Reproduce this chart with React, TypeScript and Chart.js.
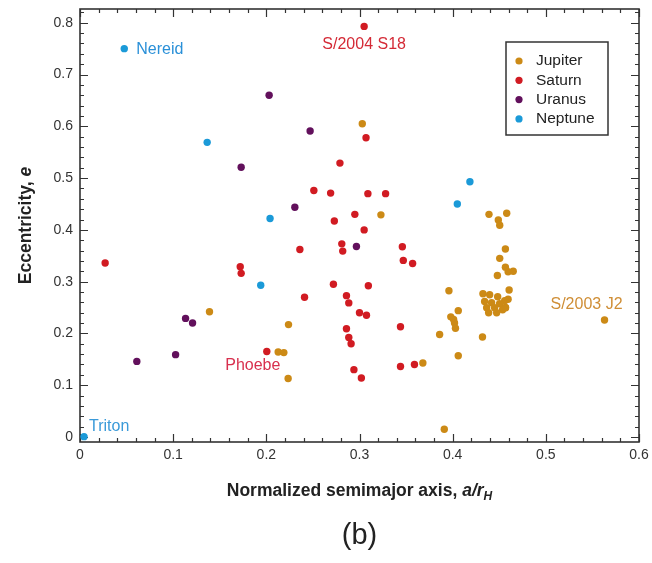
import React, { useEffect, useRef } from "react";
import { Chart, registerables } from "chart.js";

Chart.register(...registerables);

const FONT = '"Liberation Sans", Arial, Helvetica, sans-serif';

// Normalized semimajor axis (a / r_H) and eccentricity of irregular moons
const jupiterA = [
  0.139, 0.2127, 0.2188, 0.2234, 0.2238, 0.303, 0.323, 0.368, 0.386, 0.391,
  0.396, 0.398, 0.401, 0.402, 0.403, 0.406, 0.406, 0.432, 0.439, 0.449,
  0.4505, 0.458, 0.4566, 0.4505, 0.4566, 0.448, 0.4595, 0.465, 0.4606, 0.4595,
  0.4566, 0.4325, 0.4397, 0.4483, 0.4558, 0.4343, 0.4418, 0.4504, 0.4365, 0.445,
  0.4536, 0.4386, 0.4472, 0.4568, 0.563,
];
const jupiterE = [
  0.242, 0.164, 0.163, 0.113, 0.217, 0.605, 0.429, 0.143, 0.198, 0.015,
  0.2825, 0.232, 0.227, 0.22, 0.21, 0.244, 0.157, 0.193, 0.43, 0.419,
  0.409, 0.432, 0.363, 0.345, 0.328, 0.312, 0.319, 0.32, 0.284, 0.266,
  0.25, 0.2766, 0.2747, 0.2708, 0.2631, 0.2617, 0.2592, 0.2573, 0.2495, 0.2495,
  0.2456, 0.2398, 0.2398, 0.2495, 0.226,
];

const saturnA = [
  0.027, 0.172, 0.173, 0.2005, 0.236, 0.241, 0.251, 0.269, 0.272, 0.273,
  0.279, 0.281, 0.282, 0.286, 0.2885, 0.286, 0.2885, 0.291, 0.294, 0.295,
  0.3, 0.302, 0.305, 0.305, 0.307, 0.3075, 0.309, 0.3095, 0.328, 0.344,
  0.344, 0.346, 0.347, 0.357, 0.359,
];
const saturnE = [
  0.336, 0.329, 0.316, 0.165, 0.362, 0.27, 0.476, 0.471, 0.295, 0.417,
  0.529, 0.373, 0.359, 0.273, 0.259, 0.209, 0.192, 0.18, 0.13, 0.43,
  0.24, 0.114, 0.4, 0.793, 0.578, 0.235, 0.47, 0.292, 0.47, 0.213,
  0.136, 0.3675, 0.341, 0.335, 0.14,
];

const uranusA = [0.061, 0.1026, 0.1133, 0.1208, 0.173, 0.203, 0.2306, 0.247, 0.2967];
const uranusE = [0.146, 0.159, 0.229, 0.22, 0.521, 0.66, 0.4436, 0.591, 0.368];

const neptuneA = [0.0043, 0.0475, 0.1365, 0.194, 0.204, 0.405, 0.4185];
const neptuneE = [0.0006, 0.75, 0.569, 0.293, 0.422, 0.45, 0.493];

const seriesNames = ["Jupiter", "Saturn", "Uranus", "Neptune"];
const seriesColors = ["#cc8a16", "#d11b22", "#62105c", "#1b9ad8"];

const xTickLabels = ["0", "0.1", "0.2", "0.3", "0.4", "0.5", "0.6"];
const yTickLabels = ["0", "0.1", "0.2", "0.3", "0.4", "0.5", "0.6", "0.7", "0.8"];

// Named moons: a, e
const namedMoons = ["Nereid", "S/2004 S18", "Phoebe", "S/2003 J2", "Triton"];
const namedA = [0.0475, 0.305, 0.2005, 0.563, 0.0043];
const namedE = [0.75, 0.793, 0.165, 0.226, 0.0006];
const namedColors = ["#2a90d8", "#d42a36", "#d8304e", "#cf8e36", "#3a9ad9"];

const toPoints = (a: number[], e: number[]) => a.map((v, i) => ({ x: v, y: e[i] }));

// label offsets from their moon (px): dx, dy, alignment
const labelPlacement: [number, number, CanvasTextAlign][] = [
  [12, 1, "left"],
  [0, 18, "center"],
  [-14, 14, "center"],
  [-18, -15, "center"],
  [5, -10, "left"],
];

const framePlugin = {
  id: "frameTicks",
  beforeDatasetsDraw(chart: any) {
    const { ctx, chartArea: a, scales } = chart;
    const xs = scales.x;
    const ys = scales.y;
    ctx.save();
    ctx.strokeStyle = "#333";
    ctx.lineWidth = 1.2;
    ctx.beginPath();
    for (let i = 0; i <= 30; i++) {
      const px = Math.round(xs.getPixelForValue(i * 0.02)) + 0.5;
      const len = i % 5 === 0 ? 8 : 4;
      ctx.moveTo(px, a.bottom);
      ctx.lineTo(px, a.bottom - len);
      ctx.moveTo(px, a.top);
      ctx.lineTo(px, a.top + len);
    }
    for (let i = 0; i <= 41; i++) {
      const py = Math.round(ys.getPixelForValue(i * 0.02)) + 0.5;
      const len = i % 5 === 0 ? 8 : 4;
      ctx.moveTo(a.left, py);
      ctx.lineTo(a.left + len, py);
      ctx.moveTo(a.right, py);
      ctx.lineTo(a.right - len, py);
    }
    ctx.stroke();
    ctx.lineWidth = 1.6;
    ctx.strokeRect(a.left, a.top, a.right - a.left, a.bottom - a.top);
    ctx.restore();
  },
  afterDraw(chart: any) {
    const { ctx, chartArea: a, scales } = chart;
    const xs = scales.x;
    const ys = scales.y;
    ctx.save();

    // moon labels
    ctx.font = `16px ${FONT}`;
    ctx.textBaseline = "middle";
    namedMoons.forEach((name, i) => {
      const px = xs.getPixelForValue(namedA[i]);
      const py = ys.getPixelForValue(namedE[i]);
      const [dx, dy, align] = labelPlacement[i];
      ctx.fillStyle = namedColors[i];
      ctx.textAlign = align;
      ctx.fillText(name, px + dx, py + dy);
    });

    // legend box
    const lx = a.right - 133;
    const ly = a.top + 33;
    ctx.strokeStyle = "#333";
    ctx.lineWidth = 1.5;
    ctx.strokeRect(lx, ly, 102, 93);
    ctx.font = `15.5px ${FONT}`;
    ctx.textAlign = "left";
    seriesNames.forEach((name, i) => {
      const cy = ly + 19 + i * 19.3;
      ctx.fillStyle = seriesColors[i];
      ctx.beginPath();
      ctx.arc(lx + 13, cy, 3.6, 0, Math.PI * 2);
      ctx.fill();
      ctx.fillStyle = "#222";
      ctx.fillText(name, lx + 30, cy);
    });

    // x axis title
    const cx = (a.left + a.right) / 2;
    const part1 = "Normalized semimajor axis, ";
    const part2 = "a/r";
    const part3 = "H";
    const big = 17.5;
    const small = 12;
    ctx.fillStyle = "#222";
    ctx.textAlign = "left";
    ctx.textBaseline = "alphabetic";
    ctx.font = `bold ${big}px ${FONT}`;
    const w1 = ctx.measureText(part1).width;
    ctx.font = `italic bold ${big}px ${FONT}`;
    const w2 = ctx.measureText(part2).width;
    ctx.font = `italic bold ${small}px ${FONT}`;
    const w3 = ctx.measureText(part3).width;
    let sx = cx - (w1 + w2 + w3) / 2;
    const base = 496;
    ctx.font = `bold ${big}px ${FONT}`;
    ctx.fillText(part1, sx, base);
    sx += w1;
    ctx.font = `italic bold ${big}px ${FONT}`;
    ctx.fillText(part2, sx, base);
    sx += w2;
    ctx.font = `italic bold ${small}px ${FONT}`;
    ctx.fillText(part3, sx, base + 4);

    // y axis title
    ctx.save();
    ctx.translate(31, (a.top + a.bottom) / 2);
    ctx.rotate(-Math.PI / 2);
    const yp1 = "Eccentricity, ";
    const yp2 = "e";
    ctx.font = `bold ${big}px ${FONT}`;
    const yw1 = ctx.measureText(yp1).width;
    ctx.font = `italic bold ${big}px ${FONT}`;
    const yw2 = ctx.measureText(yp2).width;
    let ty = -(yw1 + yw2) / 2;
    ctx.font = `bold ${big}px ${FONT}`;
    ctx.fillText(yp1, ty, 0);
    ty += yw1;
    ctx.font = `italic bold ${big}px ${FONT}`;
    ctx.fillText(yp2, ty, 0);
    ctx.restore();

    // panel tag
    ctx.font = `29px ${FONT}`;
    ctx.textAlign = "center";
    ctx.textBaseline = "middle";
    ctx.fillStyle = "#222";
    ctx.fillText("(b)", cx, 536);

    ctx.restore();
  },
};

export default function App() {
  const canvasRef = useRef<HTMLCanvasElement | null>(null);

  useEffect(() => {
    if (!canvasRef.current) return;
    const series = [
      toPoints(jupiterA, jupiterE),
      toPoints(saturnA, saturnE),
      toPoints(uranusA, uranusE),
      toPoints(neptuneA, neptuneE),
    ];
    const chart = new Chart(canvasRef.current, {
      type: "scatter",
      data: {
        datasets: series.map((pts, i) => ({
          label: seriesNames[i],
          data: pts,
          backgroundColor: seriesColors[i],
          borderWidth: 0,
          pointRadius: 3.7,
          clip: false as any,
        })),
      },
      options: {
        animation: false,
        responsive: true,
        maintainAspectRatio: false,
        devicePixelRatio: 1,
        layout: { padding: { top: 9, right: 13, left: 0, bottom: 0 } },
        plugins: {
          legend: { display: false },
          tooltip: { enabled: false },
        },
        scales: {
          x: {
            type: "linear",
            min: 0,
            max: 0.6,
            grid: { display: false, drawTicks: false },
            border: { display: false },
            afterBuildTicks: (s: any) => {
              s.ticks = xTickLabels.map((_, i) => ({ value: i * 0.1 }));
            },
            afterFit: (s: any) => {
              s.height = 121;
              s.paddingLeft = 0;
              s.paddingRight = 0;
            },
            ticks: {
              autoSkip: false,
              maxRotation: 0,
              padding: 5,
              color: "#333",
              font: { family: FONT, size: 14 },
              callback: (_v: any, i: number) => xTickLabels[i],
            },
          },
          y: {
            type: "linear",
            min: -0.0097,
            max: 0.8266,
            grid: { display: false, drawTicks: false },
            border: { display: false },
            afterBuildTicks: (s: any) => {
              s.ticks = yTickLabels.map((_, i) => ({ value: i * 0.1 }));
            },
            afterFit: (s: any) => {
              s.width = 80;
              s.paddingTop = 0;
              s.paddingBottom = 0;
            },
            ticks: {
              autoSkip: false,
              padding: 7,
              color: "#333",
              font: { family: FONT, size: 14 },
              callback: (_v: any, i: number) => yTickLabels[i],
            },
          },
        },
      },
      plugins: [framePlugin],
    });
    return () => chart.destroy();
  }, []);

  return (
    <div
      style={{
        position: "fixed",
        left: 0,
        top: 0,
        width: 652,
        height: 563,
        background: "#fff",
      }}
    >
      <canvas ref={canvasRef} />
    </div>
  );
}
